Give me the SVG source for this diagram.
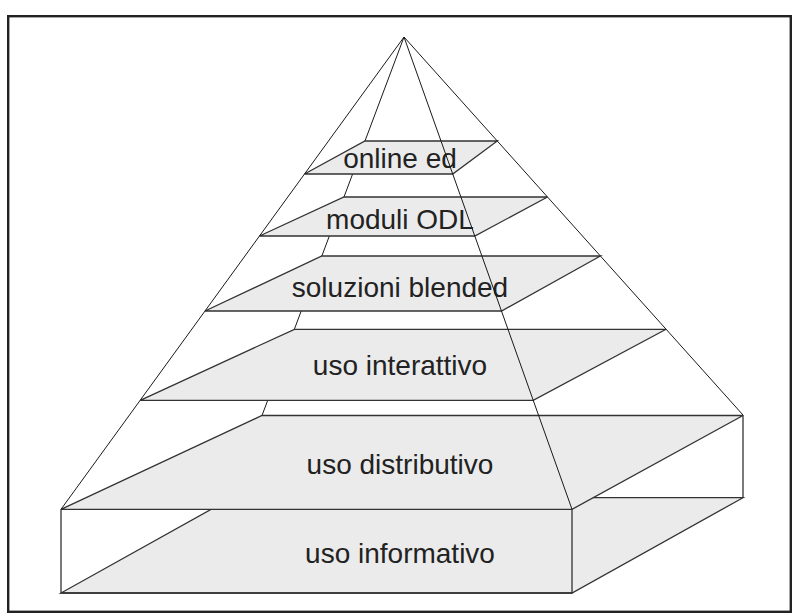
<svg xmlns="http://www.w3.org/2000/svg" width="795" height="616" viewBox="0 0 795 616">
<style>
.slab{fill:#ebebeb;stroke:#333;stroke-width:1.3;stroke-linejoin:miter}
.edge{fill:none;stroke:#1a1a1a;stroke-width:1}
.lbl{font-family:"Liberation Sans",Arial,sans-serif;font-size:28px;fill:#222;text-anchor:middle}
</style>
<rect x="0" y="0" width="795" height="616" fill="#fff"/>
<rect id="frame" x="8.2" y="16.2" width="782.6" height="595.6" fill="none" stroke="#222" stroke-width="2.4"/>
<g id="hidden-edge">
<line class="edge" x1="404" y1="37" x2="262" y2="415.5"/>
</g>
<g id="base-box">
<polygon class="slab" points="61,593 572,593 743,497.7 232,497.7"/>
<polyline class="edge" points="61,509.3 61,593 572,593 572,509.3" style="stroke:#333;stroke-width:1.3"/>
<line class="edge" x1="743" y1="415" x2="743" y2="497.7" style="stroke:#333;stroke-width:1.3"/>
<text class="lbl" x="400" y="563.3">uso informativo</text>
</g>
<g id="uso-distributivo">
<polygon class="slab" points="262,415.5 743,415.5 572,509.3 61,509.3"/>
<text class="lbl" x="400" y="474.3">uso distributivo</text>
</g>
<g id="uso-interattivo">
<polygon class="slab" points="294.4,329.3 666.1,329.3 533.2,400.3 140.2,400.3"/>
<text class="lbl" x="400" y="375">uso interattivo</text>
</g>
<g id="soluzioni-blended">
<polygon class="slab" points="321.9,256 600.4,256 501.5,311 205,311"/>
<text class="lbl" x="400" y="296.7">soluzioni blended</text>
</g>
<g id="moduli-odl">
<polygon class="slab" points="344,197 547.5,197 474.8,236 259.5,236"/>
<text class="lbl" x="400" y="229.3">moduli ODL</text>
</g>
<g id="online-ed">
<polygon class="slab" points="365,141 497.3,141 452.7,174 304.5,174"/>
<text class="lbl" x="400" y="167.7">online ed</text>
</g>
<g id="connectors">
<line class="edge" x1="404" y1="37" x2="61" y2="509.3"/>
<line class="edge" x1="404" y1="37" x2="743" y2="415"/>
<line class="edge" x1="404" y1="37" x2="572" y2="509.3"/>
</g>
</svg>
